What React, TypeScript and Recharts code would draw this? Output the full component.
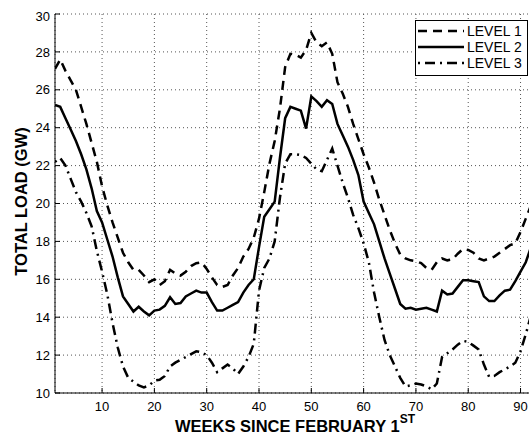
import { LineChart, Line, XAxis, YAxis, CartesianGrid, Legend } from 'recharts';

const FONT = '"Liberation Sans", Arial, Helvetica, sans-serif';

const weeks = Array.from({ length: 92 }, (_, i) => i + 1);
const xTicks = [10, 20, 30, 40, 50, 60, 70, 80, 90];
const yTicks = [10, 12, 14, 16, 18, 20, 22, 24, 26, 28, 30];

const level1 = [
  27.1, 27.6, 27.0, 26.5, 26.0, 25.1, 24.2, 23.2, 22.2, 20.9,
  19.9, 19.0, 18.2, 17.4, 16.9, 16.5, 16.5, 16.2, 15.85, 16.0,
  15.7, 15.9, 16.5, 16.3, 16.2, 16.4, 16.7, 16.85, 16.9, 16.55,
  16.1, 15.7, 15.6, 15.7, 16.2, 16.6, 17.2, 17.6, 18.2, 19.2,
  20.6, 22.1, 23.3, 25.0, 27.2, 27.9, 27.85, 27.7, 28.1, 29.0,
  28.5, 28.3, 28.5, 27.9, 26.4, 25.8, 25.1, 24.2, 23.4, 22.6,
  21.9, 21.1, 20.2, 19.4, 18.6, 17.9, 17.3, 17.1, 17.0, 16.95,
  16.85, 16.6, 16.5, 16.9, 17.1, 17.0, 17.05, 17.35, 17.6, 17.55,
  17.4, 17.1, 17.0, 17.1, 17.2, 17.4, 17.6, 17.8, 17.9, 18.5,
  19.2, 19.9,
];

const level2 = [
  25.2, 25.1, 24.5, 23.9, 23.3, 22.6, 21.8, 20.8, 19.6, 19.0,
  18.1, 17.2, 16.1, 15.1, 14.7, 14.3, 14.55, 14.3, 14.1, 14.35,
  14.4, 14.6, 15.05, 14.7, 14.75, 15.1, 15.25, 15.4, 15.3, 15.3,
  14.8, 14.35, 14.35, 14.5, 14.65, 14.8, 15.3, 15.7, 16.0, 17.7,
  19.3, 19.7, 20.1, 22.4, 24.5, 25.1, 25.0, 24.9, 23.95, 25.65,
  25.4, 25.1, 25.45, 25.25, 24.2, 23.6, 23.0, 22.3, 21.5, 20.1,
  19.5, 18.9, 18.0, 17.1, 16.3, 15.5, 14.7, 14.45, 14.5, 14.4,
  14.45, 14.5, 14.4, 14.3, 15.4, 15.2, 15.25, 15.6, 15.95, 15.95,
  15.9, 15.85, 15.1, 14.85, 14.85, 15.15, 15.4, 15.45, 15.9, 16.4,
  16.9, 17.7,
];

const level3 = [
  22.2, 22.4, 22.0, 21.3, 20.6, 20.1, 19.5, 18.8, 17.5, 16.4,
  15.2, 13.7, 12.4, 11.4, 10.8, 10.6, 10.4, 10.3, 10.4, 10.65,
  10.7, 10.9, 11.4, 11.6, 11.75, 11.9, 12.05, 12.2, 12.15, 12.0,
  11.6, 11.1, 11.3, 11.5, 11.3, 11.0, 11.4, 11.9, 12.6, 15.4,
  16.6, 17.1, 18.0, 20.3, 22.1, 22.6, 22.6, 22.55, 22.4, 22.1,
  21.8, 21.7, 22.3, 22.9, 22.0, 21.1, 20.3, 19.4, 18.7, 17.9,
  16.9, 15.3, 14.0, 12.8, 12.0, 11.4, 10.8, 10.35, 10.4, 10.5,
  10.45, 10.35, 10.2, 10.5, 11.9, 12.1, 12.3, 12.55, 12.75, 12.7,
  12.5, 12.3, 11.5, 10.85, 10.9, 11.1, 11.25, 11.4, 11.6, 12.2,
  13.1, 14.1,
];

const series = [
  { key: 'level1', name: 'LEVEL 1', dash: '9 6' },
  { key: 'level2', name: 'LEVEL 2', dash: undefined },
  { key: 'level3', name: 'LEVEL 3', dash: '2 5 10 5' },
];

const data = weeks.map((week, i) => ({
  week, level1: level1[i], level2: level2[i], level3: level3[i],
}));

const noTick = () => <g />;

function LegendBox() {
  return (
    <svg width={113} height={56} style={{ display: 'block' }}>
      <rect x={0.5} y={0.5} width={112} height={55} fill="#fff" stroke="#000" />
      {series.map((s, i) => {
        const y = 11 + i * 16;
        return (
          <g key={s.key}>
            <line x1={3} x2={49} y1={y} y2={y} stroke="#000" strokeWidth={2.5} strokeDasharray={s.dash} />
            <text x={52} y={y} dy="0.36em" fontSize={14} fontFamily={FONT} fill="#000">{s.name}</text>
          </g>
        );
      })}
    </svg>
  );
}

function XLabel({ viewBox }: any) {
  const cx = viewBox.x + viewBox.width / 2 + 2;
  return (
    <text x={cx} y={424} textAnchor="middle" fontFamily={FONT} fontWeight="bold" fontSize={16.5} fill="#000">
      <tspan>WEEKS SINCE FEBRUARY 1</tspan>
      <tspan dy={-9} fontSize={12}>ST</tspan>
    </text>
  );
}

function YLabel({ viewBox }: any) {
  const x = 19;
  const y = viewBox.y + viewBox.height / 2 - 2;
  return (
    <text x={x} y={y} transform={`rotate(-90, ${x}, ${y})`} textAnchor="middle" fontFamily={FONT}
      fontWeight="bold" fontSize={16.5} fill="#000">TOTAL LOAD (GW)</text>
  );
}

export default function App() {
  const tickStyle = { fill: '#000', fontSize: 13, fontFamily: FONT };
  return (
    <div style={{ width: 529, height: 438, overflow: 'hidden', position: 'relative' }}>
      {/* the axes run past the right edge of the picture, so the page margin is handled here */}
      <style>{'body { margin: 0; }'}</style>
      <div style={{ position: 'absolute', left: 8, top: 8 }}>
        <LineChart width={540} height={430} data={data}
          margin={{ top: 6, right: 17, bottom: 0, left: 0 }} style={{ fontFamily: FONT }}>
          <CartesianGrid stroke="#555" strokeDasharray="1 3" />
          <XAxis dataKey="week" type="number" domain={[1, 92]} ticks={xTicks} allowDataOverflow
            height={45} stroke="#000" tickSize={-5} tickMargin={14} tick={tickStyle}
            label={<XLabel />} />
          <XAxis xAxisId="top" dataKey="week" type="number" domain={[1, 92]} ticks={xTicks} allowDataOverflow
            orientation="top" height={0} stroke="#000" tickSize={-5} tick={noTick} />
          <YAxis type="number" domain={[10, 30]} ticks={yTicks} allowDataOverflow width={47}
            stroke="#000" tickSize={-5} tickMargin={10} tick={tickStyle} label={<YLabel />} />
          <YAxis yAxisId="right" type="number" domain={[10, 30]} ticks={yTicks} allowDataOverflow
            orientation="right" width={0} stroke="#000" tickSize={-5} tick={noTick} />
          <Legend layout="vertical" align="center" verticalAlign="middle"
            wrapperStyle={{ position: 'absolute', left: 407, top: 12, width: 113 }}
            content={() => <LegendBox />} />
          {series.map((s) => (
            <Line key={s.key} dataKey={s.key} name={s.name} type="linear" stroke="#000" strokeWidth={2.5}
              strokeDasharray={s.dash} dot={false} activeDot={false} isAnimationActive={false} />
          ))}
        </LineChart>
      </div>
    </div>
  );
}
